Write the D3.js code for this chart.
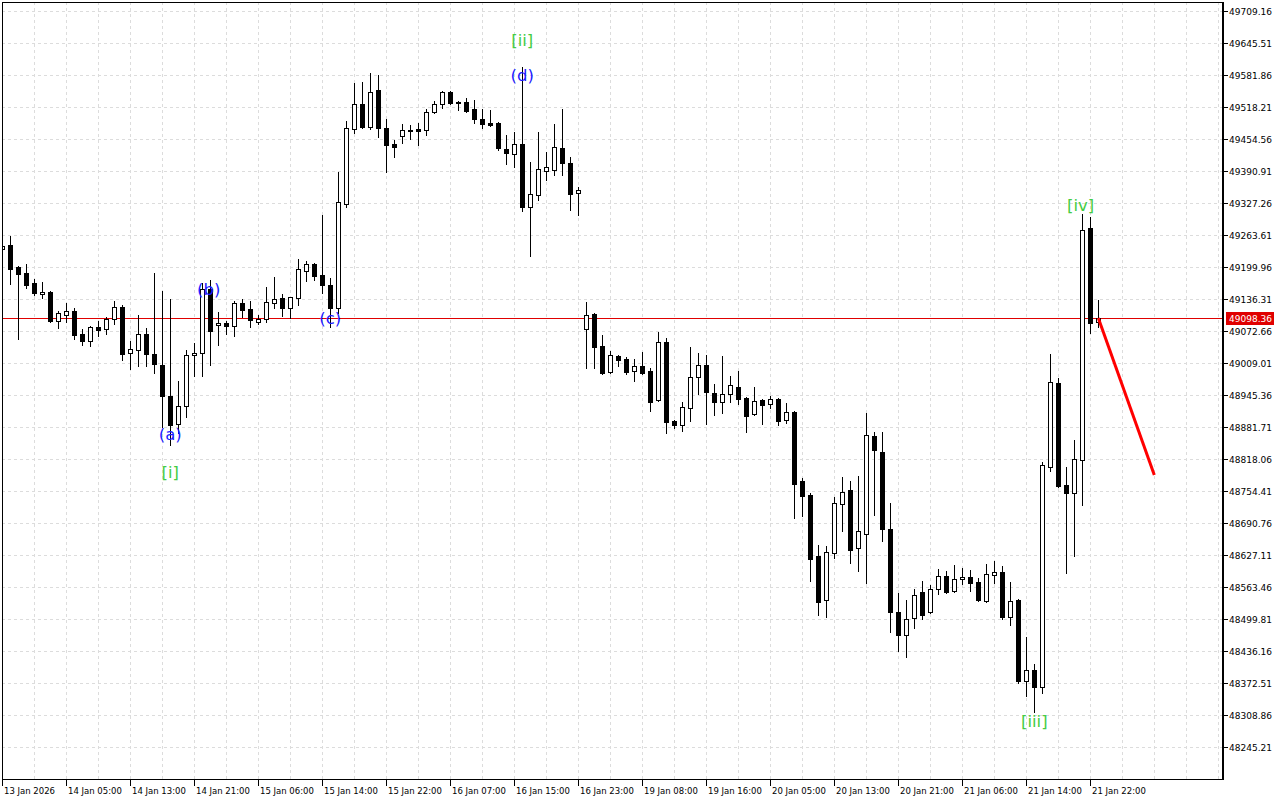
<!DOCTYPE html>
<html>
<head>
<meta charset="utf-8">
<script src="https://cdn.jsdelivr.net/npm/d3@7"></script>
<style>
html,body{margin:0;padding:0;background:#fff;}
svg{display:block;}
</style>
</head>
<body>
<svg id="chart" width="1280" height="800"></svg>
<script>
// ---- data (H1 candles) ----
const opens = [49236,49244,49200,49188,49168,49146,49150,49092,49104,49112,49066,49052,49080,49076,49096,49120,49029,49035,49066,49027,
49005,48943,48887,48923,49025,49029,49156,49084,49088,49082,49128,49116,49090,49096,49128,49138,49118,49138,49192,49206,
49184,49164,49118,49325,49474,49524,49478,49552,49476,49444,49460,49470,49474,49472,49508,49524,49548,49528,49528,49514,
49494,49486,49486,49434,49424,49444,49319,49343,49391,49393,49436,49407,49347,49076,49106,49042,48991,49023,49017,48993,
49003,48993,48935,49050,48893,48885,48919,48981,49005,48949,48931,48947,48961,48939,48907,48935,48927,48937,48895,48911,
48774,48746,48625,48537,48631,48728,48756,48641,48668,48863,48831,48678,48513,48467,48501,48553,48513,48559,48585,48555,
48579,48583,48573,48535,48587,48593,48503,48537,48376,48398,48364,48802,48969,48766,48750,48816,49278,49090];
const highs = [49259,49262,49202,49206,49176,49170,49152,49112,49128,49118,49076,49082,49092,49100,49132,49124,49052,49104,49078,49188,
49152,49136,48973,49035,49049,49168,49174,49110,49092,49132,49136,49132,49104,49160,49180,49146,49141,49216,49212,49208,
49303,49178,49389,49490,49566,49568,49586,49582,49494,49452,49484,49482,49486,49514,49530,49550,49550,49530,49536,49532,
49514,49512,49488,49462,49468,49598,49409,49468,49429,49484,49514,49419,49359,49130,49108,49064,49033,49025,49021,49017,
49031,48999,49070,49058,48895,48931,49041,49029,49025,48967,49023,48983,48993,48941,48961,48937,48943,48939,48929,48913,
48780,48750,48647,48645,48742,48782,48774,48784,48909,48871,48871,48730,48551,48537,48559,48575,48567,48599,48595,48607,
48601,48597,48581,48609,48615,48605,48573,48539,48464,48410,48812,49027,48979,48802,48855,49305,49300,49134];
const lows = [49228,49166,49056,49158,49144,49138,49090,49078,49090,49056,49044,49042,49062,49066,49086,49015,48997,49003,49003,48989,
48881,48845,48869,48901,48983,48983,49005,49044,49066,49062,49100,49080,49086,49090,49118,49102,49098,49124,49172,49174,
49148,49080,49108,49319,49466,49476,49474,49458,49389,49418,49446,49454,49442,49462,49506,49516,49524,49512,49508,49486,
49476,49480,49432,49405,49399,49311,49222,49333,49373,49383,49383,49313,49303,48999,48999,48987,48989,49003,48987,48973,
48987,48913,48933,48869,48879,48873,48893,48947,48887,48905,48909,48931,48927,48871,48905,48887,48919,48885,48889,48700,
48704,48575,48507,48503,48621,48674,48611,48595,48571,48706,48654,48473,48437,48424,48481,48499,48511,48549,48551,48553,
48569,48555,48535,48533,48571,48499,48487,48372,48346,48314,48352,48794,48762,48591,48626,48726,49068,49080];
const closes = [49242,49196,49186,49164,49148,49150,49092,49108,49112,49064,49052,49080,49074,49096,49120,49027,49037,49066,49027,49007,
48943,48885,48923,49025,49029,49156,49072,49088,49082,49128,49114,49094,49096,49130,49136,49118,49140,49196,49206,49182,
49164,49118,49329,49476,49524,49478,49548,49476,49442,49438,49472,49473,49470,49508,49524,49548,49526,49526,49510,49494,
49484,49483,49436,49426,49444,49319,49345,49395,49399,49438,49407,49345,49353,49104,49040,48989,49025,49015,48991,49003,
48989,48931,49050,48891,48885,48921,48981,49005,48951,48931,48947,48965,48937,48903,48933,48925,48937,48893,48911,48768,
48744,48620,48533,48633,48730,48752,48637,48674,48865,48835,48678,48513,48467,48499,48547,48507,48559,48585,48553,48579,
48583,48571,48537,48589,48593,48503,48535,48376,48398,48364,48806,48971,48764,48750,48818,49274,49088,49098.36];

const priceTicks = ["49709.16","49645.51","49581.86","49518.21","49454.56","49390.91","49327.26","49263.61","49199.96","49136.31",
"49072.66","49009.01","48945.36","48881.71","48818.06","48754.41","48690.76","48627.11","48563.46","48499.81","48436.16",
"48372.51","48308.86","48245.21"];
const timeLabels = ["13 Jan 2026","14 Jan 05:00","14 Jan 13:00","14 Jan 21:00","15 Jan 06:00","15 Jan 14:00","15 Jan 22:00",
"16 Jan 07:00","16 Jan 15:00","16 Jan 23:00","19 Jan 08:00","19 Jan 16:00","20 Jan 05:00","20 Jan 13:00","20 Jan 21:00",
"21 Jan 06:00","21 Jan 14:00","21 Jan 22:00"];
const currentPrice = 49098.36;

// wave labels: text, candle index, price
const waveText  = ["[i]","(a)","(b)","(c)","(d)","[ii]","[iii]","[iv]"];
const waveIndex = [21, 21, 25.8, 41, 65, 65, 129, 134.8];
const wavePrice = [48792, 48866, 49156, 49098, 49580, 49651, 48295, 49323];
const waveKind  = ["major","minor","minor","minor","minor","major","major","major"];

// forecast line: candle index -> price
const forecastIndex = [137, 144];
const forecastPrice = [49098.36, 48786];

// ---- drawing ----
const svg = d3.select("#chart");
const L = 2, T = 2, R = 1222, B = 779;
const x = d3.scaleLinear().domain([0, 152]).range([2.3, 2.3 + 8 * 152]);
const y = d3.scaleLinear().domain([48245.21, 49709.16]).range([747, 11]);
const fontAxis = "'DejaVu Sans', sans-serif";

svg.append("rect").attr("x",0).attr("y",0).attr("width",1280).attr("height",800).attr("fill","#fff");

const clip = svg.append("defs").append("clipPath").attr("id","plotclip");
clip.append("rect").attr("x",L+1).attr("y",T+1).attr("width",R-L-1).attr("height",B-T-1);

// grid
const grid = svg.append("g").attr("stroke","#dcdcdc").attr("stroke-dasharray","3,3").attr("stroke-width",1);
priceTicks.forEach(t => {
  const yy = Math.round(y(+t)) + 0.5;
  grid.append("line").attr("x1",L).attr("x2",R).attr("y1",yy).attr("y2",yy);
});
for (let gx = L + 32; gx < R; gx += 32) {
  grid.append("line").attr("x1",gx+0.5).attr("x2",gx+0.5).attr("y1",T).attr("y2",B);
}

// current price line
const py = Math.round(y(currentPrice)) + 0.5;
svg.append("line").attr("x1",L).attr("x2",R).attr("y1",py).attr("y2",py).attr("stroke","#e00000").attr("stroke-width",1);

// candles
const plot = svg.append("g").attr("clip-path","url(#plotclip)");
const candles = opens.map((o,i) => ({i, o, h: highs[i], l: lows[i], c: closes[i]}));
const cg = plot.selectAll("g.c").data(candles).join("g");
cg.append("line")
  .attr("x1", d => Math.floor(x(d.i)) + 0.5).attr("x2", d => Math.floor(x(d.i)) + 0.5)
  .attr("y1", d => Math.round(y(d.h))).attr("y2", d => Math.round(y(d.l)) + 1)
  .attr("stroke","#000").attr("stroke-width",1);
cg.append("rect")
  .attr("x", d => Math.floor(x(d.i)) - 1.5)
  .attr("y", d => Math.round(y(Math.max(d.o,d.c))) + 0.5)
  .attr("width", 4)
  .attr("height", d => Math.max(0, Math.round(y(Math.min(d.o,d.c))) - Math.round(y(Math.max(d.o,d.c)))))
  .attr("fill", d => d.c >= d.o ? "#fff" : "#000")
  .attr("stroke","#000").attr("stroke-width",1);

// forecast line
plot.append("line")
  .attr("x1", x(forecastIndex[0])).attr("y1", y(forecastPrice[0]))
  .attr("x2", x(forecastIndex[1])).attr("y2", y(forecastPrice[1]))
  .attr("stroke","#ff0000").attr("stroke-width",3);

// wave labels
waveText.forEach((t,k) => {
  svg.append("text")
    .attr("x", x(waveIndex[k])).attr("y", y(wavePrice[k]))
    .attr("text-anchor","middle").attr("dominant-baseline","central")
    .attr("font-family", fontAxis).attr("font-size", 16.5)
    .attr("fill", waveKind[k] === "major" ? "#44cc44" : "#1a1aff")
    .text(t);
});

// frame
svg.append("rect").attr("x",L+0.5).attr("y",T+0.5).attr("width",R-L).attr("height",B-T)
  .attr("fill","none").attr("stroke","#000").attr("stroke-width",1);
svg.append("line").attr("x1",R+1).attr("x2",R+1).attr("y1",T).attr("y2",B+1).attr("stroke","#000").attr("stroke-width",2);

// right axis
const ra = svg.append("g");
priceTicks.forEach(t => {
  const yy = Math.round(y(+t)) + 0.5;
  ra.append("line").attr("x1",R+1).attr("x2",R+6).attr("y1",yy).attr("y2",yy).attr("stroke","#000");
  ra.append("text").attr("x",R+7).attr("y",yy).attr("dominant-baseline","central")
    .attr("font-family",fontAxis).attr("font-size",9).attr("fill","#000").text(t);
});
// current price tag
ra.append("rect").attr("x",R+4).attr("y",py-6.5).attr("width",48).attr("height",13).attr("fill","#e00000");
ra.append("text").attr("x",R+7).attr("y",py).attr("dominant-baseline","central")
  .attr("font-family",fontAxis).attr("font-size",9).attr("fill","#fff").text(d3.format(".2f")(currentPrice));

// bottom axis
const ba = svg.append("g");
timeLabels.forEach((t,k) => {
  const xx = Math.floor(x(k*8)) + 0.5;
  ba.append("line").attr("x1",xx).attr("x2",xx).attr("y1",B).attr("y2",B+7).attr("stroke","#000");
  ba.append("text").attr("x",xx+1.5).attr("y",B+12).attr("dominant-baseline","central")
    .attr("font-family",fontAxis).attr("font-size",8.5).attr("fill","#000").text(t);
});
</script>
</body>
</html>
